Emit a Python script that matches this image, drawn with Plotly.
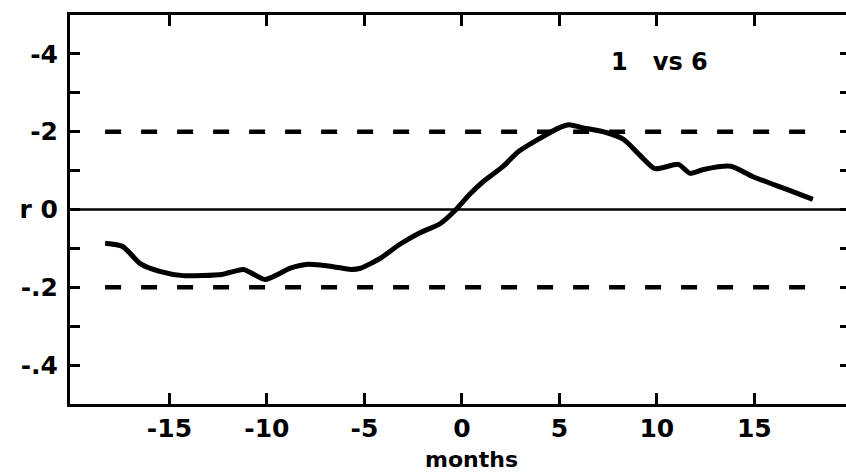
import plotly.graph_objects as go

# Data (lag in months vs correlation r)
months = [-18.3, -17.4, -16.5, -15.5, -14.3, -12.3, -11.2, -10.1, -8.8, -7.9, -6.6, -5.7, -5.2,
          -4.2, -3.2, -2.2, -1.1, -0.3, 0.4, 1.1, 2.1, 2.9, 4.0, 4.9, 5.5, 6.1, 7.4, 8.3,
          9.1, 9.9, 11.1, 11.7, 12.4, 13.8, 14.9, 16.7, 18.0]
r_values = [-0.087, -0.095, -0.139, -0.159, -0.170, -0.167, -0.154, -0.180, -0.151, -0.141, -0.147,
            -0.154, -0.151, -0.126, -0.090, -0.061, -0.036, 0.0, 0.039, 0.072, 0.110, 0.149,
            0.183, 0.208, 0.218, 0.211, 0.198, 0.180, 0.141, 0.105, 0.116, 0.093, 0.103,
            0.111, 0.085, 0.051, 0.026]

x_ticks = [-15, -10, -5, 0, 5, 10, 15]
x_ticktext = ["-15", "-10", "-5", "0", "5", "10", "15"]
y_ticks = [0.4, 0.3, 0.2, 0.1, 0.0, -0.1, -0.2, -0.3, -0.4]
y_ticktext = ["-4", "", "-2", "", "r 0", "", "-.2", "", "-.4"]
sig_levels = [0.2, -0.2]
panel_label = "1\u00a0\u00a0\u00a0vs 6"
x_title = "months"

FONT = "DejaVu Sans"

fig = go.Figure()
fig.add_trace(go.Scatter(x=months, y=r_values, mode="lines",
                         line=dict(color="black", width=5, shape="spline", smoothing=0.6),
                         showlegend=False, hoverinfo="skip"))
# invisible trace to anchor the right-hand tick axis
fig.add_trace(go.Scatter(x=[0], y=[0], yaxis="y2", mode="markers",
                         marker=dict(opacity=0), showlegend=False, hoverinfo="skip"))

# zero line
fig.add_shape(type="line", xref="paper", yref="y", x0=0, x1=1, y0=0, y1=0,
              line=dict(color="black", width=2.5))
# significance dashed lines
for lv in sig_levels:
    fig.add_shape(type="line", xref="x", yref="y", x0=-18.3, x1=18.0, y0=lv, y1=lv,
                  line=dict(color="black", width=4.5, dash="16px,20px"))

fig.add_annotation(x=10.15, y=0.378, xref="x", yref="y", text=panel_label, showarrow=False,
                   font=dict(family=FONT, size=24, color="black", weight="bold"))
fig.add_annotation(x=0.517, y=-0.142, xref="paper", yref="paper", text=x_title, showarrow=False,
                   yanchor="middle",
                   font=dict(family=FONT, size=22, color="black", weight="bold"))

fig.update_layout(
    width=846, height=473,
    margin=dict(l=70, r=0, t=15, b=69),
    paper_bgcolor="white", plot_bgcolor="white",
    xaxis=dict(range=[-20.1, 19.7], tickvals=x_ticks, ticktext=x_ticktext,
               ticks="inside", ticklen=11, tickwidth=2.5, tickcolor="black",
               showline=True, linewidth=3, linecolor="black", mirror="ticks",
               showgrid=False, zeroline=False,
               tickfont=dict(family=FONT, size=25, color="black", weight="bold")),
    yaxis=dict(range=[-0.5, 0.5], tickvals=y_ticks, ticktext=y_ticktext,
               ticks="inside", ticklen=10, tickwidth=3, tickcolor="black",
               showline=True, linewidth=3, linecolor="black",
               showgrid=False, zeroline=False, ticklabelstandoff=4,
               tickfont=dict(family=FONT, size=25, color="black", weight="bold")),
    yaxis2=dict(range=[-0.5, 0.5], overlaying="y", side="right", tickvals=y_ticks,
                ticks="inside", ticklen=6, tickwidth=3, tickcolor="black",
                showline=False, showgrid=False, zeroline=False, showticklabels=False),
)

fig.write_html("out.html")
